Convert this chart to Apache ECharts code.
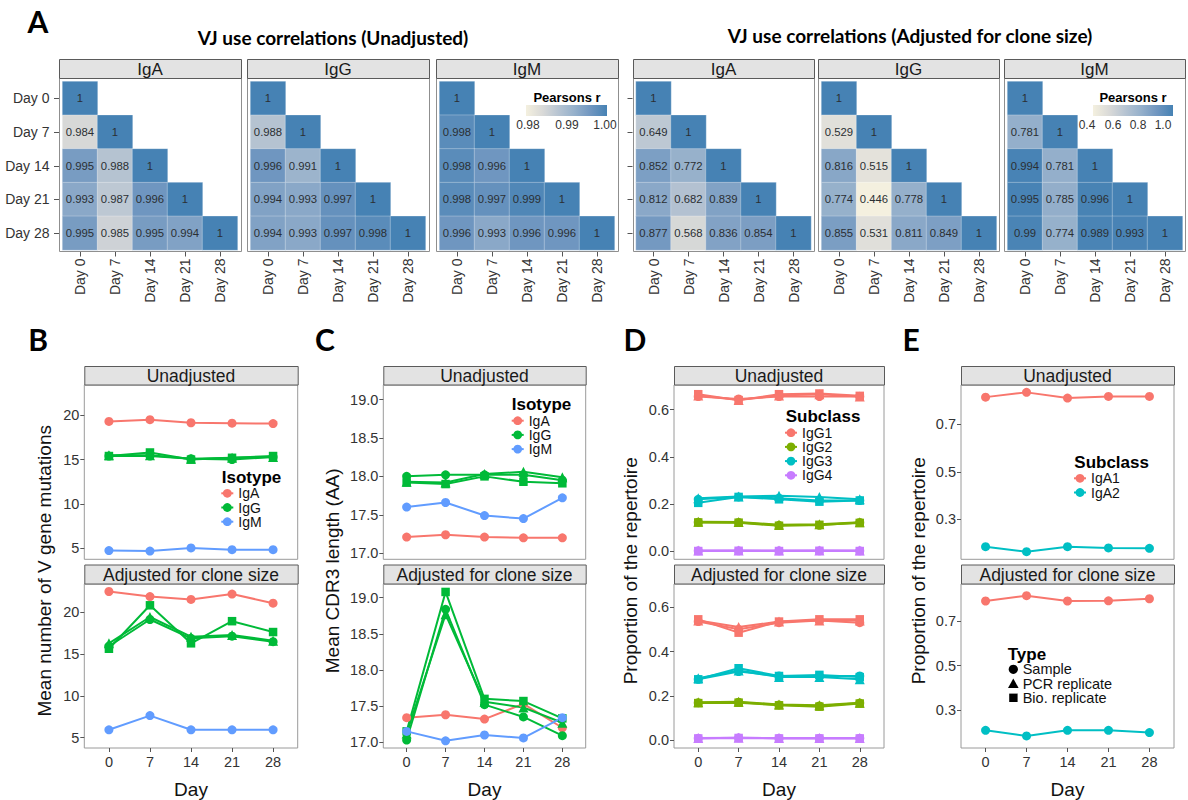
<!DOCTYPE html>
<html><head><meta charset="utf-8">
<script src="https://cdn.jsdelivr.net/npm/echarts@6/dist/echarts.min.js"></script>
<style>html,body{margin:0;padding:0;background:#fff}#c{width:1188px;height:800px}</style>
</head><body><div id="c"></div>
<script>
// ---------------- DATA ----------------
const days = ['Day 0','Day 7','Day 14','Day 21','Day 28'];
const dayTicks = ['0','7','14','21','28'];
const isotypes = ['IgA','IgG','IgM'];
const iggSubclasses = ['IgG1','IgG2','IgG3','IgG4'];
const igaSubclasses = ['IgA1','IgA2'];
const replicateTypes = ['Sample','PCR replicate','Bio. replicate'];

// VJ use correlations, lower triangle (row = y day, col = x day)
const vjUnadjIgA = [[1],[0.984,1],[0.995,0.988,1],[0.993,0.987,0.996,1],[0.995,0.985,0.995,0.994,1]];
const vjUnadjIgG = [[1],[0.988,1],[0.996,0.991,1],[0.994,0.993,0.997,1],[0.994,0.993,0.997,0.998,1]];
const vjUnadjIgM = [[1],[0.998,1],[0.998,0.996,1],[0.998,0.997,0.999,1],[0.996,0.993,0.996,0.996,1]];
const vjAdjIgA = [[1],[0.649,1],[0.852,0.772,1],[0.812,0.682,0.839,1],[0.877,0.568,0.836,0.854,1]];
const vjAdjIgG = [[1],[0.529,1],[0.816,0.515,1],[0.774,0.446,0.778,1],[0.855,0.531,0.811,0.849,1]];
const vjAdjIgM = [[1],[0.781,1],[0.994,0.781,1],[0.995,0.785,0.996,1],[0.99,0.774,0.989,0.993,1]];
const pearsonTicksUnadj = [0.98, 0.99, 1.00];
const pearsonTicksAdj = [0.4, 0.6, 0.8, 1.0];

// B: mean number of V gene mutations
const mutUnadjIgA = [19.3,19.5,19.15,19.1,19.05];
const mutUnadjIgGSample = [15.4,15.4,15.1,15.0,15.3];
const mutUnadjIgGPCR = [15.5,15.5,15.1,15.2,15.3];
const mutUnadjIgGBio = [15.4,15.8,15.0,15.2,15.4];
const mutUnadjIgM = [4.75,4.7,5.05,4.85,4.85];
const mutAdjIgA = [22.5,21.9,21.55,22.2,21.1];
const mutAdjIgGSample = [15.95,19.15,16.9,17.15,16.5];
const mutAdjIgGPCR = [16.3,19.45,17.1,17.3,16.6];
const mutAdjIgGBio = [15.65,20.85,16.3,18.95,17.65];
const mutAdjIgM = [5.95,7.65,5.95,5.95,5.95];
const mutTicks = [5,10,15,20];

// C: mean CDR3 length (AA)
const cdrUnadjIgA = [17.21,17.24,17.21,17.2,17.2];
const cdrUnadjIgGSample = [18.0,18.02,18.02,18.02,17.95];
const cdrUnadjIgGPCR = [17.93,17.92,18.03,18.06,17.99];
const cdrUnadjIgGBio = [17.92,17.9,18.0,17.93,17.91];
const cdrUnadjIgM = [17.6,17.66,17.49,17.45,17.72];
const cdrAdjIgA = [17.34,17.38,17.32,17.53,17.2];
const cdrAdjIgGSample = [17.03,18.84,17.52,17.35,17.09];
const cdrAdjIgGPCR = [17.12,18.77,17.56,17.48,17.27];
const cdrAdjIgGBio = [17.15,19.08,17.6,17.57,17.33];
const cdrAdjIgM = [17.15,17.02,17.1,17.06,17.34];
const cdrTicks = [17.0,17.5,18.0,18.5,19.0];

// D: IgG subclass proportions [Sample, PCR replicate, Bio. replicate]
const iggUnadjIgG1 = [[0.655,0.645,0.655,0.655,0.655],[0.66,0.64,0.66,0.665,0.655],[0.665,0.64,0.665,0.668,0.658]];
const iggUnadjIgG2 = [[0.123,0.122,0.11,0.11,0.122],[0.125,0.124,0.112,0.114,0.123],[0.122,0.121,0.108,0.112,0.12]];
const iggUnadjIgG3 = [[0.22,0.23,0.225,0.215,0.215],[0.225,0.232,0.235,0.23,0.22],[0.205,0.23,0.22,0.21,0.215]];
const iggUnadjIgG4 = [[0.002,0.002,0.002,0.002,0.002],[0.003,0.003,0.003,0.003,0.003],[0.001,0.002,0.001,0.002,0.001]];
const iggAdjIgG1 = [[0.535,0.5,0.53,0.54,0.53],[0.54,0.51,0.535,0.54,0.54],[0.545,0.485,0.535,0.545,0.545]];
const iggAdjIgG2 = [[0.17,0.172,0.16,0.155,0.168],[0.172,0.174,0.162,0.158,0.17],[0.168,0.17,0.158,0.152,0.166]];
const iggAdjIgG3 = [[0.275,0.31,0.29,0.29,0.29],[0.28,0.315,0.285,0.285,0.275],[0.275,0.325,0.29,0.295,0.285]];
const iggAdjIgG4 = [[0.01,0.012,0.01,0.01,0.01],[0.011,0.012,0.011,0.011,0.011],[0.009,0.011,0.009,0.009,0.009]];
const propTicksD = [0.0,0.2,0.4,0.6];

// E: IgA subclass proportions
const igaUnadjIgA1 = [0.814,0.834,0.81,0.817,0.817];
const igaUnadjIgA2 = [0.185,0.164,0.185,0.18,0.178];
const igaAdjIgA1 = [0.789,0.813,0.789,0.79,0.799];
const igaAdjIgA2 = [0.211,0.186,0.211,0.211,0.201];
const propTicksE = [0.3,0.5,0.7];

// ---------------- STYLE / LAYOUT ----------------
const FONT = '"Liberation Sans", Arial, Helvetica, sans-serif';
const TFONT = 'Lato, "Open Sans", sans-serif';
const COL = {IgA:'#F8766D', IgG:'#00BA38', IgM:'#619CFF', IgG1:'#F8766D', IgG2:'#7CAE00', IgG3:'#00BFC4', IgG4:'#C77CFF', IgA1:'#F8766D', IgA2:'#00BFC4'};
const heatStops = ['#f4f0df','#dadad8','#b7c4d2','#95b0cb','#7096c0','#4682b4'];

const chart = echarts.init(document.getElementById('c'), null, {renderer:'svg', width:1188, height:800});
const grids=[], xAxes=[], yAxes=[], series=[], graphics=[];

function txt(x, y, text, font, opt) {
  opt = opt || {};
  return {type:'text', x, y, rotation: opt.rot || 0, z: 50, silent:true,
    style:{text, font, fill: opt.fill || '#000', align: opt.align || 'center', verticalAlign: opt.va || 'middle'}};
}
function rect(x, y, w, h, fill, stroke, z) {
  return {type:'rect', z: z || 40, silent:true, shape:{x, y, width:w, height:h}, style:{fill, stroke, lineWidth:1}};
}
function triToData(m) {
  const out = [];
  m.forEach((row, yi) => row.forEach((v, xi) => out.push([xi, yi, v])));
  return out;
}

// ---- heatmaps ----
const heatDefs = [
  {label:'IgA', vals:vjUnadjIgA, frame:59,   tile:62.5,  fw:182, showY:true,  ticksY:true},
  {label:'IgG', vals:vjUnadjIgG, frame:247,  tile:250.5, fw:182, showY:false, ticksY:false},
  {label:'IgM', vals:vjUnadjIgM, frame:436,  tile:439.5, fw:182, showY:false, ticksY:false},
  {label:'IgA', vals:vjAdjIgA,   frame:633,  tile:636,   fw:181, showY:false, ticksY:true},
  {label:'IgG', vals:vjAdjIgG,   frame:818,  tile:821.5, fw:181, showY:false, ticksY:false},
  {label:'IgM', vals:vjAdjIgM,   frame:1004, tile:1007.5,fw:181, showY:false, ticksY:false}
];
heatDefs.forEach((d, i) => {
  grids.push({left:d.tile, top:81.5, width:175, height:168.5, show:false});
  xAxes.push({type:'category', gridIndex:i, data:days, position:'bottom', offset:1.5,
    axisLine:{show:false, onZero:false}, splitLine:{show:false},
    axisTick:{show:true, alignWithLabel:true, length:5, lineStyle:{color:'#555'}},
    axisLabel:{rotate:90, fontSize:14, color:'#333', margin:7, fontFamily:FONT}});
  yAxes.push({type:'category', gridIndex:i, data:days, inverse:true, offset:3.5,
    axisLine:{show:false, onZero:false}, splitLine:{show:false},
    axisTick:{show:d.ticksY, alignWithLabel:true, length:5, lineStyle:{color:'#555'}},
    axisLabel:{show:d.showY, fontSize:14, color:'#333', margin:9.5, fontFamily:FONT}});
  series.push({type:'heatmap', xAxisIndex:i, yAxisIndex:i, data:triToData(d.vals), silent:true,
    itemStyle:{borderColor:'rgba(255,255,255,0.35)', borderWidth:0.8},
    emphasis:{disabled:true},
    label:{show:true, formatter:p => String(p.value[2]), fontSize:11.3, color:'#2b2f33', fontFamily:FONT}});
  graphics.push(rect(d.frame + 0.5, 78.5, d.fw, 173, 'none', '#8f8f8f', 45));
  graphics.push(rect(d.frame + 0.5, 59.5, d.fw, 19, '#e3e3e3', '#5a5a5a', 45));
  graphics.push(txt(d.frame + d.fw / 2, 69.5, d.label, '17px ' + FONT, {fill:'#1a1a1a'}));
});

// heatmap colour legends
function colorbar(cx, barX, barW, ticks, tickPos, fmt) {
  const stops = heatStops.map((c, k) => ({offset:k / (heatStops.length - 1), color:c}));
  graphics.push(txt(cx, 97, 'Pearsons r', 'bold 13px ' + FONT));
  graphics.push({type:'rect', z:45, silent:true, shape:{x:barX, y:105, width:barW, height:11},
    style:{fill:new echarts.graphic.LinearGradient(0, 0, 1, 0, stops)}});
  ticks.forEach((t, k) => graphics.push(txt(tickPos[k], 124.5, fmt(t), '12px ' + FONT, {fill:'#333'})));
}
colorbar(567, 526, 81, pearsonTicksUnadj, [528, 567, 605], v => v.toFixed(2));
colorbar(1133, 1093, 80, pearsonTicksAdj, [1087, 1113, 1138, 1163], v => v.toFixed(1));

// titles
graphics.push(txt(38, 21, 'A', 'bold 30px ' + TFONT));
graphics.push(txt(333, 37, 'VJ use correlations (Unadjusted)', 'bold 19px ' + TFONT));
graphics.push(txt(910, 35, 'VJ use correlations (Adjusted for clone size)', 'bold 19px ' + TFONT));
graphics.push(txt(38, 339, 'B', 'bold 30px ' + TFONT));
graphics.push(txt(325, 339, 'C', 'bold 30px ' + TFONT));
graphics.push(txt(635, 339, 'D', 'bold 30px ' + TFONT));
graphics.push(txt(911, 339, 'E', 'bold 30px ' + TFONT));

// ---- line panels ----
const rows = [{top:385, height:174.3, strip:366.5, label:'Unadjusted'},
              {top:584, height:172.7, strip:565, label:'Adjusted for clone size'}];
const SYM = {S:['circle', 9], P:['triangle', 10], B:['rect', 8.5]};
function ls(g, name, vals, type) {
  const [sym, size] = SYM[type];
  return {type:'line', name, xAxisIndex:g, yAxisIndex:g, data:vals.map((v, i) => [i, v]),
    symbol:sym, symbolSize:size, showSymbol:true, silent:true, emphasis:{disabled:true},
    itemStyle:{color:COL[name]}, lineStyle:{color:COL[name], width:2}, z:3};
}
const panels = [
  {left:84.3, width:213.4, min:3.77, max:23.4, ticks:mutTicks, fmt:v => String(v),
   ytitle:'Mean number of V gene mutations', tx:44,
   series:[
     g => [ls(g,'IgA',mutUnadjIgA,'S'), ls(g,'IgG',mutUnadjIgGSample,'S'), ls(g,'IgG',mutUnadjIgGPCR,'P'), ls(g,'IgG',mutUnadjIgGBio,'B'), ls(g,'IgM',mutUnadjIgM,'S')],
     g => [ls(g,'IgA',mutAdjIgA,'S'), ls(g,'IgG',mutAdjIgGSample,'S'), ls(g,'IgG',mutAdjIgGPCR,'P'), ls(g,'IgG',mutAdjIgGBio,'B'), ls(g,'IgM',mutAdjIgM,'S')]]},
  {left:383.3, width:202.4, min:16.92, max:19.19, ticks:cdrTicks, fmt:v => v.toFixed(1),
   ytitle:'Mean CDR3 length (AA)', tx:332,
   series:[
     g => [ls(g,'IgA',cdrUnadjIgA,'S'), ls(g,'IgG',cdrUnadjIgGSample,'S'), ls(g,'IgG',cdrUnadjIgGPCR,'P'), ls(g,'IgG',cdrUnadjIgGBio,'B'), ls(g,'IgM',cdrUnadjIgM,'S')],
     g => [ls(g,'IgA',cdrAdjIgA,'S'), ls(g,'IgG',cdrAdjIgGSample,'S'), ls(g,'IgG',cdrAdjIgGPCR,'P'), ls(g,'IgG',cdrAdjIgGBio,'B'), ls(g,'IgM',cdrAdjIgM,'S')]]},
  {left:674, width:210, min:-0.034, max:0.704, ticks:propTicksD, fmt:v => v.toFixed(1),
   ytitle:'Proportion of the repertoire', tx:630,
   series:[
     g => [[iggUnadjIgG1,'IgG1'],[iggUnadjIgG2,'IgG2'],[iggUnadjIgG3,'IgG3'],[iggUnadjIgG4,'IgG4']].flatMap(([arr, n]) => [ls(g,n,arr[0],'S'), ls(g,n,arr[1],'P'), ls(g,n,arr[2],'B')]),
     g => [[iggAdjIgG1,'IgG1'],[iggAdjIgG2,'IgG2'],[iggAdjIgG3,'IgG3'],[iggAdjIgG4,'IgG4']].flatMap(([arr, n]) => [ls(g,n,arr[0],'S'), ls(g,n,arr[1],'P'), ls(g,n,arr[2],'B')])]},
  {left:961, width:213, min:0.132, max:0.865, ticks:propTicksE, fmt:v => v.toFixed(1),
   ytitle:'Proportion of the repertoire', tx:918,
   series:[
     g => [ls(g,'IgA1',igaUnadjIgA1,'S'), ls(g,'IgA2',igaUnadjIgA2,'S')],
     g => [ls(g,'IgA1',igaAdjIgA1,'S'), ls(g,'IgA2',igaAdjIgA2,'S')]]}
];
panels.forEach((p) => {
  rows.forEach((r, ri) => {
    const g = grids.length;
    const bottom = ri === 1;
    grids.push({left:p.left, top:r.top, width:p.width, height:r.height, show:true,
      borderColor:'#9a9a9a', borderWidth:1, backgroundColor:'#fff'});
    xAxes.push({type:'value', gridIndex:g, min:-0.6, max:4.6,
      axisLine:{show:false, onZero:false}, splitLine:{show:false},
      axisTick:{show:bottom, length:4, lineStyle:{color:'#555'}, customValues:[0,1,2,3,4]},
      axisLabel:{show:bottom, customValues:[0,1,2,3,4], formatter:v => dayTicks[Math.round(v)],
        fontSize:14.5, color:'#333', margin:6, fontFamily:FONT},
      name: bottom ? 'Day' : '', nameLocation:'middle', nameGap:32,
      nameTextStyle:{fontSize:19, color:'#111', fontFamily:FONT}});
    yAxes.push({type:'value', gridIndex:g, min:p.min, max:p.max,
      axisLine:{show:false, onZero:false}, splitLine:{show:false},
      axisTick:{show:true, length:4, lineStyle:{color:'#555'}, customValues:p.ticks},
      axisLabel:{customValues:p.ticks, formatter:p.fmt, fontSize:14.5, color:'#333', margin:5, fontFamily:FONT}});
    p.series[ri](g).forEach(s => series.push(s));
    graphics.push(rect(p.left + 0.5, r.strip, p.width, r.top - r.strip, '#e3e3e3', '#5a5a5a', 45));
    graphics.push(txt(p.left + p.width / 2, (r.strip + r.top) / 2 + 0.5, r.label, '17.5px ' + FONT, {fill:'#1a1a1a'}));
  });
  graphics.push(txt(p.tx, 570.8, p.ytitle, '19px ' + FONT, {rot:Math.PI / 2, fill:'#111'}));
});

// legend titles
graphics.push(txt(221.7, 477, 'Isotype', 'bold 17px ' + FONT, {align:'left'}));
graphics.push(txt(511.7, 404, 'Isotype', 'bold 17px ' + FONT, {align:'left'}));
graphics.push(txt(785.7, 416.7, 'Subclass', 'bold 17px ' + FONT, {align:'left'}));
graphics.push(txt(1074.3, 462.3, 'Subclass', 'bold 17px ' + FONT, {align:'left'}));

// Type legend (shape key)
graphics.push(txt(1007.7, 654, 'Type', 'bold 17px ' + FONT, {align:'left'}));
const typeY = [669.3, 684, 697.8];
graphics.push({type:'circle', z:50, silent:true, shape:{cx:1013.3, cy:typeY[0], r:4.6}, style:{fill:'#000'}});
graphics.push({type:'polygon', z:50, silent:true, shape:{points:[[1013.3, typeY[1]-5.5],[1008, typeY[1]+4],[1018.6, typeY[1]+4]]}, style:{fill:'#000'}});
graphics.push({type:'rect', z:50, silent:true, shape:{x:1009.2, y:typeY[2]-4.2, width:8.4, height:8.4}, style:{fill:'#000'}});
replicateTypes.forEach((t, k) => graphics.push(txt(1022.7, typeY[k], t, '14.5px ' + FONT, {align:'left', fill:'#111'})));

const legendCommon = {orient:'vertical', itemWidth:12, itemHeight:11, itemGap:0, padding:0,
  selectedMode:false, textStyle:{fontSize:14, lineHeight:14.2, color:'#111', fontFamily:FONT}};
const legends = [
  Object.assign({left:220.3, top:486.2, data:isotypes}, legendCommon),
  Object.assign({left:510.7, top:413.6, data:isotypes}, legendCommon),
  Object.assign({left:784, top:425.6, data:iggSubclasses}, legendCommon),
  Object.assign({left:1073, top:471.2, data:igaSubclasses}, legendCommon)
];

chart.setOption({
  animation:false,
  backgroundColor:'#fff',
  grid:grids, xAxis:xAxes, yAxis:yAxes,
  visualMap:[
    {type:'continuous', show:false, min:0.9795, max:1, dimension:2, seriesIndex:[0,1,2], inRange:{color:heatStops}},
    {type:'continuous', show:false, min:0.446, max:1, dimension:2, seriesIndex:[3,4,5], inRange:{color:heatStops}}
  ],
  legend:legends,
  series:series,
  graphic:graphics
});
</script>
</body></html>
